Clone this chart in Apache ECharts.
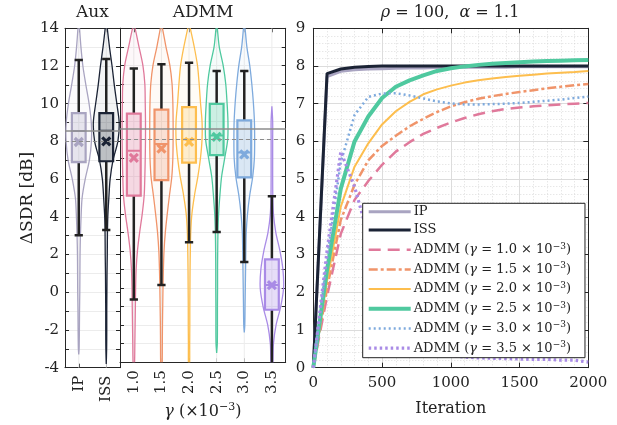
<!DOCTYPE html>
<html><head><meta charset="utf-8">
<script src="https://cdn.jsdelivr.net/npm/echarts@6/dist/echarts.min.js"></script>
<style>html,body{margin:0;padding:0;background:#fff}#c{width:617px;height:425px}</style>
</head><body><div id="c"></div><script>
// ---------- DATA ----------
const auxCats = ['IP', 'ISS'];
const admmCats = ['1.0', '1.5', '2.0', '2.5', '3.0', '3.5'];
// box statistics, order: IP, ISS, 1.0, 1.5, 2.0, 2.5, 3.0, 3.5
const whiskerLow  = [3.02, 3.3, -0.62, 0.16, 2.47, 3.02, 1.41, -6];
const boxQ1       = [6.9, 6.95, 4.98, 5.82, 6.76, 7.16, 5.96, -1.17];
const boxMedian   = [8.55, 8.57, 7.4, 7.77, 8.0, 8.22, 7.3, 0.16];
const boxQ3       = [9.5, 9.5, 9.4, 9.62, 9.75, 9.93, 9.04, 1.54];
const whiskerHigh = [12.32, 12.37, 11.83, 12.06, 12.14, 11.7, 11.7, 4.95];
const meanValue   = [7.97, 8.0, 7.02, 7.52, 7.88, 8.15, 7.2, 0.16];
const refLines    = [8.57, 8.0];
// violin extents and relative density at levels -4..14
const violinLow  = [-3.3, -3.8, -5, -5, -5, -3.5, -2.4, -5];
const violinHigh = [14.5, 14.5, 14.2, 14.2, 14.4, 14.3, 14.4, 9.8];
const densLevels = [-4, -3, -2, -1, 0, 1, 2, 3, 4, 5, 6, 7, 8, 9, 10, 11, 12, 13, 14];
const densIP  = [0.03, 0.03, 0.05, 0.06, 0.08, 0.09, 0.10, 0.13, 0.18, 0.26, 0.50, 0.82, 0.98, 0.97, 0.80, 0.55, 0.32, 0.17, 0.06];
const densISS = [0.03, 0.03, 0.04, 0.04, 0.05, 0.06, 0.08, 0.09, 0.12, 0.20, 0.30, 0.52, 0.90, 1.00, 0.82, 0.62, 0.45, 0.25, 0.08];
const dens10  = [0.06, 0.08, 0.10, 0.12, 0.14, 0.18, 0.28, 0.45, 0.65, 0.80, 0.85, 0.88, 0.90, 0.90, 0.88, 0.85, 0.70, 0.40, 0.10];
const dens15  = [0.06, 0.07, 0.08, 0.10, 0.12, 0.15, 0.20, 0.30, 0.45, 0.62, 0.80, 0.88, 0.90, 0.90, 0.88, 0.82, 0.65, 0.35, 0.08];
const dens20  = [0.05, 0.05, 0.06, 0.06, 0.07, 0.08, 0.10, 0.13, 0.22, 0.42, 0.68, 0.88, 1.00, 1.00, 0.88, 0.78, 0.65, 0.40, 0.10];
const dens25  = [0.05, 0.05, 0.06, 0.06, 0.07, 0.07, 0.08, 0.10, 0.15, 0.25, 0.38, 0.62, 0.85, 0.87, 0.80, 0.70, 0.50, 0.20, 0.05];
const dens30  = [0.03, 0.03, 0.04, 0.06, 0.08, 0.10, 0.12, 0.15, 0.25, 0.42, 0.65, 0.78, 0.80, 0.78, 0.70, 0.58, 0.42, 0.20, 0.06];
const dens35  = [0.08, 0.12, 0.32, 0.68, 0.90, 0.85, 0.62, 0.30, 0.12, 0.07, 0.06, 0.06, 0.06, 0.06, 0.06, 0.06, 0.06, 0.06, 0.06];
// convergence curves (mean ΔSDR vs iteration)
const iterations = [0, 100, 200, 300, 400, 500, 600, 700, 800, 900, 1000, 1100, 1200, 1300, 1400, 1500, 1600, 1700, 1800, 1900, 2000];
const curveIP    = [0, 7.72, 7.86, 7.9, 7.92, 7.93, 7.94, 7.95, 7.95, 7.96, 7.96, 7.97, 7.97, 7.97, 7.97, 7.98, 7.98, 7.98, 7.98, 7.98, 7.98];
const curveISS   = [0, 7.8, 7.92, 7.97, 7.99, 8.0, 8.0, 8.0, 8.0, 8.0, 8.0, 8.0, 8.0, 8.0, 8.0, 8.0, 8.0, 8.0, 8.0, 8.0, 8.0];
const curve10    = [0, 1.9, 3.55, 4.45, 4.95, 5.38, 5.73, 5.98, 6.2, 6.36, 6.5, 6.62, 6.72, 6.8, 6.86, 6.9, 6.93, 6.96, 6.98, 7.0, 7.02];
const curve15    = [0, 2.1, 3.92, 4.85, 5.5, 5.88, 6.15, 6.4, 6.6, 6.78, 6.93, 7.04, 7.13, 7.2, 7.26, 7.31, 7.36, 7.41, 7.45, 7.49, 7.52];
const curve20    = [0, 2.3, 4.27, 5.33, 5.95, 6.45, 6.8, 7.05, 7.25, 7.38, 7.48, 7.56, 7.62, 7.67, 7.71, 7.74, 7.77, 7.8, 7.82, 7.84, 7.87];
const curve25    = [0, 2.6, 4.75, 6.0, 6.66, 7.15, 7.45, 7.62, 7.75, 7.87, 7.94, 7.99, 8.03, 8.06, 8.08, 8.1, 8.12, 8.13, 8.14, 8.15, 8.16];
const curve30    = [0, 2.9, 5.45, 6.7, 7.18, 7.27, 7.28, 7.22, 7.14, 7.06, 7.01, 6.98, 6.98, 6.99, 7.0, 7.02, 7.05, 7.08, 7.11, 7.15, 7.19];
const curve35    = [0, 3.1, 5.73, 4.8, 3.5, 2.2, 1.3, 0.8, 0.5, 0.38, 0.32, 0.28, 0.26, 0.25, 0.24, 0.23, 0.22, 0.22, 0.2, 0.2, 0.15];
const yTicksLeft = [-4, 14, 1];
const yTicksRight = [0, 9, 1];
const xTicksRight = [0, 2000, 500];

// ---------- STYLE ----------
const FONT = 'DejaVu Serif';
const TXT = '#222';
const colors = ['#a9a4c1', '#1b2335', '#e0799b', '#f0946a', '#fdbe4e', '#4fc99f', '#7eaadd', '#a98be6'];
const densities = [densIP, densISS, dens10, dens15, dens20, dens25, dens30, dens35];

function rgba(hex, a) {
  const n = parseInt(hex.slice(1), 16);
  return 'rgba(' + (n >> 16) + ',' + ((n >> 8) & 255) + ',' + (n & 255) + ',' + a + ')';
}

function boxRenderer(offset) {
  return function (params, api) {
    const ci = api.value(0);
    const k = offset + ci;
    const band = api.size([1, 0])[0];
    const cx = api.coord([ci, 0])[0];
    const Y = v => api.coord([ci, v])[1];
    const col = colors[k];
    const dens = densities[k];
    const lo = violinLow[k], hi = violinHigh[k];
    const maxHalf = 0.47 * band;
    const lv = [lo], wv = [0];
    densLevels.forEach((l, j) => { if (l > lo && l < hi) { lv.push(l); wv.push(dens[j]); } });
    lv.push(hi); wv.push(0);
    const left = lv.map((l, j) => [cx - wv[j] * maxHalf, Y(l)]);
    const right = lv.map((l, j) => [cx + wv[j] * maxHalf, Y(l)]).reverse();
    const boxHalf = 0.25 * band, capHalf = 0.15 * band, xs = 4;
    const yTop = api.coord([ci, 14])[1], yBot = api.coord([ci, -4])[1];
    const children = [
      { type: 'line', shape: { x1: cx, y1: yTop, x2: cx, y2: yBot }, style: { stroke: '#ececec', lineWidth: 1 } },
      { type: 'polygon', shape: { points: left.concat(right), smooth: 0.3 },
        style: { fill: rgba(col, 0.05), stroke: col, lineWidth: 1.3 } },
      { type: 'line', shape: { x1: cx, y1: Y(whiskerLow[k]), x2: cx, y2: Y(boxQ1[k]) }, style: { stroke: '#222', lineWidth: 2.5 } },
      { type: 'line', shape: { x1: cx, y1: Y(boxQ3[k]), x2: cx, y2: Y(whiskerHigh[k]) }, style: { stroke: '#222', lineWidth: 2.5 } },
      { type: 'line', shape: { x1: cx - capHalf, y1: Y(whiskerLow[k]), x2: cx + capHalf, y2: Y(whiskerLow[k]) }, style: { stroke: '#222', lineWidth: 2.5 } },
      { type: 'line', shape: { x1: cx - capHalf, y1: Y(whiskerHigh[k]), x2: cx + capHalf, y2: Y(whiskerHigh[k]) }, style: { stroke: '#222', lineWidth: 2.5 } },
      { type: 'rect', shape: { x: cx - boxHalf, y: Y(boxQ3[k]), width: 2 * boxHalf, height: Y(boxQ1[k]) - Y(boxQ3[k]) },
        style: { fill: rgba(col, 0.25), stroke: col, lineWidth: 2.2 } },
      { type: 'line', shape: { x1: cx - boxHalf, y1: Y(boxMedian[k]), x2: cx + boxHalf, y2: Y(boxMedian[k]) }, style: { stroke: col, lineWidth: 2 } },
      { type: 'line', shape: { x1: cx - xs, y1: Y(meanValue[k]) - xs, x2: cx + xs, y2: Y(meanValue[k]) + xs }, style: { stroke: col, lineWidth: 3.2 } },
      { type: 'line', shape: { x1: cx - xs, y1: Y(meanValue[k]) + xs, x2: cx + xs, y2: Y(meanValue[k]) - xs }, style: { stroke: col, lineWidth: 3.2 } }
    ];
    return { type: 'group', children };
  };
}

const refMark = {
  silent: true, symbol: ['none', 'none'], label: { show: false }, animation: false,
  data: [
    { yAxis: refLines[0], lineStyle: { color: '#8c8c8c', width: 1.5, type: 'solid' } },
    { yAxis: refLines[1], lineStyle: { color: '#8c8c8c', width: 1.2, type: [4, 3] } }
  ]
};

const lbl = { fontFamily: FONT, fontSize: 15, color: TXT };
const axLine = { show: true, onZero: false, lineStyle: { color: '#262626', width: 1 } };
function catAxis(grid, cats, pos, showLabel, extra) {
  return Object.assign({
    type: 'category', gridIndex: grid, data: cats, position: pos, boundaryGap: true,
    axisLine: axLine,
    axisTick: { show: true, inside: true, alignWithLabel: true, length: 4, lineStyle: { color: '#262626' } },
    axisLabel: showLabel ? Object.assign({ rotate: 90, margin: 8 }, lbl) : { show: false },
    splitLine: { show: false }
  }, extra || {});
}
function valAxis(grid, rng, pos, showLabel, split, extra) {
  return Object.assign({
    type: 'value', gridIndex: grid, min: rng[0], max: rng[1], interval: rng[2], position: pos,
    axisLine: axLine,
    axisTick: { show: true, inside: true, length: 4, lineStyle: { color: '#262626' } },
    axisLabel: showLabel ? Object.assign({ margin: 7 }, lbl) : { show: false },
    splitLine: split ? { show: true, lineStyle: { color: '#ececec', width: 1 } } : { show: false }
  }, extra || {});
}

const curveDefs = [
  ['IP', curveIP, colors[0], 3, 'solid'],
  ['ISS', curveISS, colors[1], 3, 'solid'],
  ['ADMM 1.0', curve10, colors[2], 2.5, [12, 7]],
  ['ADMM 1.5', curve15, colors[3], 2.5, [9, 3, 3, 3]],
  ['ADMM 2.0', curve20, colors[4], 2, 'solid'],
  ['ADMM 2.5', curve25, colors[5], 4, 'solid'],
  ['ADMM 3.0', curve30, colors[6], 2.5, [2, 3]],
  ['ADMM 3.5', curve35, colors[7], 3.2, [2.5, 3]]
];
const lineSeries = curveDefs.map(d => ({
  type: 'line', name: d[0], xAxisIndex: 4, yAxisIndex: 4,
  data: iterations.map((x, i) => [x, d[1][i]]),
  showSymbol: false, symbol: 'none', clip: true,
  lineStyle: { color: d[2], width: d[3], type: d[4] }, itemStyle: { color: d[2] }
}));

const chart = echarts.init(document.getElementById('c'), null, { renderer: 'canvas' });
chart.setOption({
  animation: false,
  backgroundColor: '#fff',
  textStyle: { fontFamily: FONT },
  grid: [
    { left: 65, top: 28.3, width: 55, height: 339.4 },
    { left: 120, top: 28.3, width: 165.7, height: 339.4 },
    { left: 313.3, top: 28.3, width: 275, height: 339.4 }
  ],
  xAxis: [
    catAxis(0, auxCats, 'bottom', true),
    catAxis(0, auxCats, 'top', false),
    catAxis(1, admmCats, 'bottom', true, {
      name: '{i|γ} (×10{s|−3})', nameLocation: 'middle', nameGap: 30,
      nameTextStyle: { fontFamily: FONT, fontSize: 16, color: TXT,
        rich: { i: { fontFamily: FONT, fontSize: 16, fontStyle: 'italic', color: TXT },
                s: { fontFamily: FONT, fontSize: 11, color: TXT, padding: [0, 0, 9, 0] } } }
    }),
    catAxis(1, admmCats, 'top', false),
    { type: 'value', gridIndex: 2, min: xTicksRight[0], max: xTicksRight[1], interval: xTicksRight[2], position: 'bottom',
      axisLine: axLine, axisTick: { show: true, inside: true, length: 5, lineStyle: { color: '#262626' } },
      axisLabel: Object.assign({ margin: 8, formatter: v => String(v) }, lbl),
      name: 'Iteration', nameLocation: 'middle', nameGap: 33,
      nameTextStyle: { fontFamily: FONT, fontSize: 16, color: TXT },
      splitLine: { show: true, lineStyle: { color: '#dcdcdc', width: 1 } },
      minorTick: { show: false, splitNumber: 5 },
      minorSplitLine: { show: true, lineStyle: { color: '#d4d4d4', width: 0.8, type: [1, 2] } } },
    { type: 'value', gridIndex: 2, min: xTicksRight[0], max: xTicksRight[1], interval: xTicksRight[2], position: 'top',
      axisLine: axLine, axisTick: { show: true, inside: true, length: 5, lineStyle: { color: '#262626' } },
      axisLabel: { show: false }, splitLine: { show: false } }
  ],
  yAxis: [
    valAxis(0, yTicksLeft, 'left', true, true, {
      axisLabel: Object.assign({ margin: 6, formatter: v => (Math.round(v) % 2 === 0 ? String(v) : '') }, lbl),
      name: 'ΔSDR [dB]', nameLocation: 'middle', nameGap: 28,
      nameTextStyle: { fontFamily: FONT, fontSize: 17, color: TXT }
    }),
    valAxis(0, yTicksLeft, 'right', false, false),
    valAxis(1, yTicksLeft, 'left', false, true),
    valAxis(1, yTicksLeft, 'right', false, false),
    valAxis(2, yTicksRight, 'left', true, false, {
      axisLabel: Object.assign({ margin: 8 }, lbl),
      axisTick: { show: true, inside: true, length: 5, lineStyle: { color: '#262626' } },
      splitLine: { show: true, lineStyle: { color: '#dcdcdc', width: 1 } },
      minorTick: { show: false, splitNumber: 5 },
      minorSplitLine: { show: true, lineStyle: { color: '#d4d4d4', width: 0.8, type: [1, 2] } }
    }),
    valAxis(2, yTicksRight, 'right', false, false, {
      axisTick: { show: true, inside: true, length: 5, lineStyle: { color: '#262626' } }
    })
  ],
  legend: {
    data: curveDefs.map(d => d[0]),
    orient: 'vertical', left: 362.7, top: 203.3,
    backgroundColor: '#fff', borderColor: '#222', borderWidth: 1, borderRadius: 0,
    padding: [2, 14, 3, 4], itemWidth: 42, itemHeight: 14, itemGap: 5.2,
    itemStyle: { opacity: 0 },
    lineStyle: { width: 'inherit', type: 'inherit', color: 'inherit' },
    textStyle: { fontFamily: FONT, fontSize: 13, color: TXT, padding: [0, 0, 0, -2],
      rich: { i: { fontFamily: FONT, fontSize: 13, fontStyle: 'italic', color: TXT },
              s: { fontFamily: FONT, fontSize: 9, color: TXT, padding: [0, 0, 7, 0] } } },
    formatter: name => name.indexOf('ADMM') === 0 ? 'ADMM ({i|γ} = ' + name.slice(5) + ' × 10{s|−3})' : name
  },
  graphic: [
    { type: 'text', x: 92.5, y: 13, style: { text: 'Aux', fontFamily: FONT, fontSize: 17, fill: TXT, align: 'center', verticalAlign: 'middle' } },
    { type: 'text', x: 203, y: 13, style: { text: 'ADMM', fontFamily: FONT, fontSize: 17, fill: TXT, align: 'center', verticalAlign: 'middle' } },
    { type: 'text', x: 450, y: 13, style: { text: '{i|ρ} = 100,  {i|α} = 1.1', fontFamily: FONT, fontSize: 16, fill: TXT, align: 'center', verticalAlign: 'middle',
      rich: { i: { fontFamily: FONT, fontSize: 16, fontStyle: 'italic', fill: TXT } } } }
  ],
  series: [
    { type: 'custom', name: 'auxBox', xAxisIndex: 0, yAxisIndex: 0, clip: true,
      data: auxCats.map((c, i) => [i, meanValue[i]]), renderItem: boxRenderer(0), markLine: refMark, z: 2 },
    { type: 'custom', name: 'admmBox', xAxisIndex: 2, yAxisIndex: 2, clip: true,
      data: admmCats.map((c, i) => [i, meanValue[2 + i]]), renderItem: boxRenderer(2), markLine: refMark, z: 2 }
  ].concat(lineSeries)
});
</script></body></html>
